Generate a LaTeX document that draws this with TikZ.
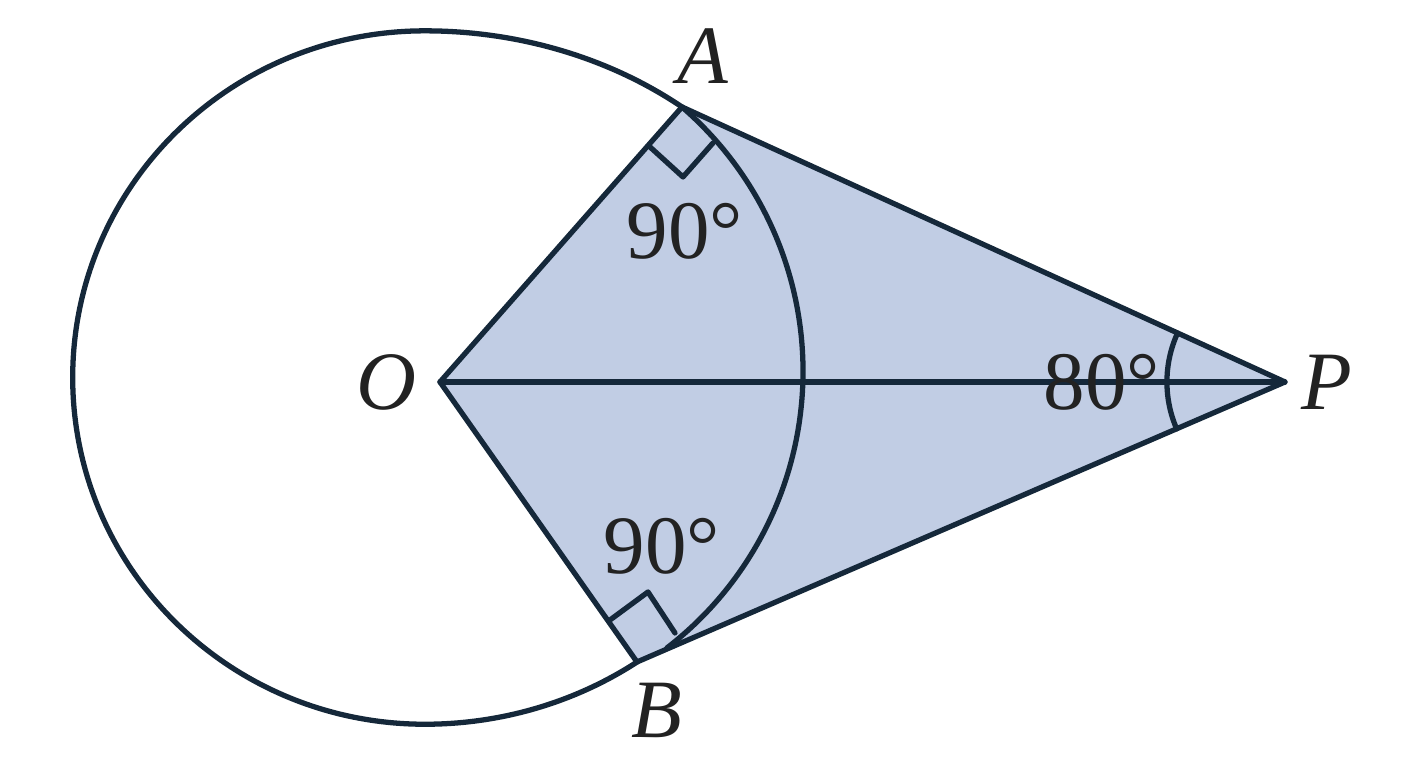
\documentclass[tikz,border=0pt]{standalone}
\usepackage{fontspec}
\setmainfont{Liberation Serif}
\definecolor{ink}{HTML}{15283A}
\definecolor{kitefill}{RGB}{193,205,228}
\definecolor{txt}{HTML}{222222}
\begin{document}
\begin{tikzpicture}[x=0.01cm,y=0.01cm, line width=1.5pt, line join=round, line cap=round,
  lbl/.style={font=\fontsize{23.6}{28}\selectfont\itshape, text=txt, inner sep=0pt},
  deg/.style={font=\fontsize{23.6}{28}\selectfont, text=txt, inner sep=0pt}]
\useasboundingbox (0,0) rectangle (1408,768);
\coordinate (O) at (440,386);
\coordinate (A) at (682,661);
\coordinate (B) at (637,106);
\coordinate (P) at (1285,386);
\fill[kitefill] (O) -- (A) -- (P) -- (B) -- cycle;
\draw[ink] (A) arc[start angle=51.3, end angle=90, x radius=4.11cm, y radius=3.465cm]
  arc[start angle=90, end angle=270, x radius=3.52cm, y radius=3.465cm]
  arc[start angle=270, end angle=304.9, x radius=3.71cm, y radius=3.465cm];
\draw[ink] (A) arc[start angle=49.2, end angle=-52.4, radius=3.49cm];
\draw[ink] (O) -- (A) -- (P) -- (B) -- cycle;
\draw[ink] (O) -- (P);
\draw[ink] (650,621) -- (683,591) -- (713,625);
\draw[ink] (610,148) -- (648,176) -- (675,135);
\draw[ink] ([shift={(155.5:1.18cm)}]P) arc[start angle=155.5, end angle=203.4, radius=1.18cm];
\node[lbl] (lA) at (703,712) {A};
\node[lbl] (lB) at (657,58) {B};
\node[lbl] (lP) at (1327,386) {P};
\node[lbl] (lO) at (386,386) {O};
\node[deg] (d1) at (685,537) {90°};
\node[deg] (d2) at (662,222) {90°};
\node[deg] (d3) at (1102,386) {80°};
\end{tikzpicture}
\end{document}
